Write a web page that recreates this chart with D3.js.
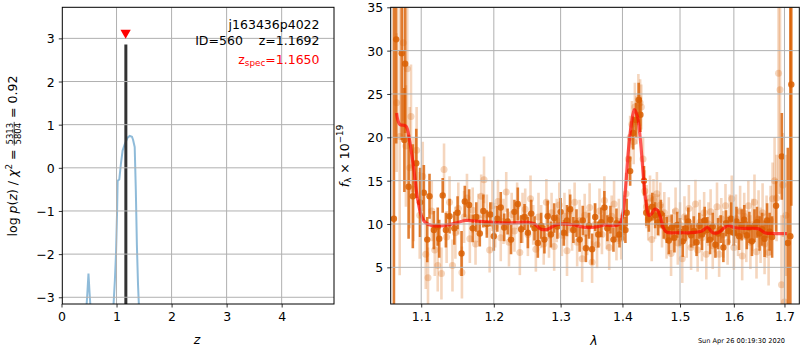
<!DOCTYPE html>
<html><head><meta charset="utf-8">
<script src="https://cdn.jsdelivr.net/npm/d3@7"></script>
<style>body{margin:0;background:#fff}svg{font-family:"DejaVu Sans",sans-serif}</style>
</head><body><svg id="c" width="800" height="350"></svg>
<script>
// ---------- left panel: log p(z) ----------
const zTicks = [0,1,2,3,4];
const pTicks = [-3,-2,-1,0,1,2,3];
const pzZ   = [0.40,0.45,0.47,0.49,0.51,0.53,0.58,0.90,0.94,0.97,0.99,1.01,1.02,1.05,1.08,1.11,1.15,1.20,1.24,1.28,1.30,1.33,1.35,1.37,1.39,1.41,1.46];
const pzLog = [-6,-3.3,-2.9,-2.45,-2.9,-3.3,-6,-6,-3.3,-2.6,-2.0,-1.0,-0.3,-0.27,0.1,0.4,0.55,0.7,0.74,0.72,0.65,0.48,-0.5,-1.8,-2.7,-3.3,-6];
const zBest = 1.1692, pBest = 2.86;
const zSpec = 1.1650, zSpecMarkY = 3.13;
const infoLines = ["j163436p4022", "ID=560    z=1.1692"];
const specText = ["z", "spec", "=1.1650"];

// ---------- right panel: spectrum ----------
const lamTicks = [1.1,1.2,1.3,1.4,1.5,1.6,1.7];
const fluxTicks = [5,10,15,20,25,30,35];

const darkLam = [1.0646,1.0675,1.0746,1.0780,1.0790,1.0835,1.0890,1.0935,1.0985,1.1035,1.1080,1.1110,1.1168,1.1220,1.1240,1.1287,1.1330,1.1380,1.1445,1.1490,1.1545,1.1590,
 1.165,1.170,1.175,1.180,1.185,1.190,1.195,1.200,1.205,1.210,1.215,1.220,1.225,1.230,1.235,1.240,1.245,1.250,1.255,1.260,1.265,1.270,1.275,1.280,1.285,1.290,1.295,1.300,1.305,1.310,1.315,1.320,1.325,1.330,1.335,1.340,1.345,1.350,1.355,1.360,1.365,1.370,1.375,1.380,1.385,1.390,1.395,
 1.400,1.405,1.4072,1.413,1.418,1.423,1.4275,1.4305,1.4366,1.4405,1.445,1.451,1.456,1.461,1.466,1.471,1.4763,
 1.480,1.485,1.490,1.495,1.500,1.505,1.510,1.515,1.520,1.525,1.530,1.535,1.540,1.545,1.550,1.555,1.560,1.565,1.570,1.575,1.580,1.585,1.590,1.595,1.600,1.605,1.610,1.615,1.620,1.625,1.630,1.635,1.640,1.645,1.650,1.655,1.660,1.665,1.670,1.675,
 1.683,1.6946,1.7069,1.712,1.714];
const darkFlux = [10.6,31.3,29.7,19.7,28.5,14.3,13.2,17.0,12.5,13.6,8.2,13.2,9.3,9.7,8.3,13.3,9.3,10.9,9.5,11.3,6.6,12.6,
 12.2,9.5,10.8,8.9,11.5,10.0,11.1,8.6,10.6,11.9,9.6,10.3,8.2,11.4,12.3,9.4,10.8,9.0,11.2,9.5,7.8,9.8,8.2,10.9,8.8,10.7,9.7,11.4,9.0,10.4,11.7,9.3,10.1,8.2,10.4,7.2,9.8,7.1,10.8,8.8,10.2,11.9,9.5,10.5,8.2,10.1,8.8,
 9.6,9.3,11.3,16.1,20.5,22.0,24.3,22.6,15.0,11.3,10.6,12.0,11.0,10.2,11.2,9.8,9.3,
 8.1,9.6,8.4,9.9,9.1,8.0,9.5,10.3,8.7,9.2,7.9,9.8,8.8,10.4,9.3,8.2,9.7,7.6,8.9,9.4,7.3,10.1,9.2,10.6,9.0,10.3,8.6,9.9,10.5,8.7,9.6,8.0,9.8,10.2,8.9,9.4,8.3,10.4,9.1,8.5,
 12.1,17.8,7.8,8.6,26.1];
const darkErr = [26,12,10,6,8,6,6,4,4,3.2,2.6,2.6,2.2,2.2,2.2,2.0,2.0,2.0,1.9,1.9,2.6,1.8,
 1.8,1.6,1.7,1.5,1.9,1.6,1.4,1.7,1.5,1.8,1.6,1.5,1.7,1.4,1.9,1.6,1.5,1.8,1.6,1.4,1.7,1.5,1.6,1.8,1.5,1.7,1.4,1.6,1.5,1.8,1.7,1.5,1.6,1.4,1.7,1.6,1.5,1.8,1.6,1.5,1.7,1.9,1.5,1.6,1.4,1.7,1.5,
 1.5,1.5,1.6,1.7,1.9,2.0,2.0,2.0,1.7,1.5,1.5,1.6,1.5,1.5,1.6,1.5,1.5,
 1.6,1.5,1.7,1.5,1.6,1.8,1.5,1.6,1.4,1.7,1.6,1.5,1.8,1.6,1.5,1.7,1.6,1.5,1.8,1.6,1.7,1.5,1.6,1.9,1.5,1.7,1.6,1.8,1.7,1.6,1.8,1.7,1.9,1.8,2.0,1.9,2.1,2.0,2.2,2.4,
 3.0,5.0,11,30,14];

const lightLam = [1.0680,1.0720,1.0765,1.0800,1.0817,1.0850,1.0866,1.0900,1.0940,1.0980,1.1020,1.1060,1.1090,1.1140,1.1180,1.1220,1.1270,1.1305,1.1340,1.1380,1.1420,1.1460,1.1500,1.1550,1.1580,1.1620,1.1660,
 1.170,1.174,1.178,1.182,1.186,1.190,1.194,1.198,1.202,1.206,1.210,1.214,1.218,1.222,1.226,1.230,1.234,1.238,1.242,1.246,1.250,1.254,1.258,1.262,1.266,1.270,1.274,1.278,1.282,1.286,1.290,1.294,1.298,1.302,1.306,1.310,1.314,1.318,1.322,1.326,1.330,1.334,1.338,1.342,1.346,1.350,1.354,1.358,1.362,1.366,1.370,1.374,1.378,1.382,1.386,1.390,1.394,1.398,
 1.402,1.406,1.410,1.413,1.416,1.419,1.421,1.424,1.427,1.430,1.432,1.435,1.438,1.441,1.444,1.447,1.450,1.453,1.456,1.459,1.462,1.465,1.468,1.472,1.476,
 1.480,1.484,1.488,1.492,1.496,1.500,1.504,1.508,1.512,1.516,1.520,1.524,1.528,1.532,1.536,1.540,1.544,1.548,1.552,1.556,1.560,1.564,1.568,1.572,1.576,1.580,1.584,1.588,1.592,1.596,1.600,1.604,1.608,1.612,1.616,1.620,1.624,1.628,1.632,1.636,1.640,1.644,1.648,1.652,1.656,1.660,1.664,1.668,1.672,1.676,
 1.680,1.684,1.688,1.691,1.694,1.697,1.700,1.703];
const lightFlux = [24.0,20.1,30.9,19.0,27.9,16.5,22.4,14.0,18.5,11.0,15.5,6.5,3.8,11.5,7.0,5.2,4.3,16.3,8.5,12.5,5.2,9.0,11.8,4.4,10.8,13.0,8.3,
 11.6,7.7,10.7,13.2,15.1,11.1,7.0,12.1,9.7,12.6,8.4,10.3,13.7,7.9,11.1,9.2,12.1,6.7,10.7,11.7,8.8,12.9,9.9,7.1,10.8,9.7,7.7,12.5,8.7,11.3,7.4,10.4,12.2,8.7,10.9,6.9,11.5,9.5,12.5,7.9,10.4,6.0,11.0,9.0,11.9,5.6,9.9,7.6,11.5,8.8,12.7,9.6,7.3,10.9,12.3,8.3,10.3,8.3,
 11.0,13.5,17.5,20.0,21.5,19.5,23.5,21.8,24.5,24.0,23.5,17.5,13.8,12.0,10.5,13.0,8.2,12.8,10.9,13.5,11.0,12.2,9.8,11.3,8.5,
 10.6,6.6,9.3,11.5,7.8,9.9,6.0,10.8,8.6,11.8,7.3,9.6,12.3,7.0,10.2,8.4,11.3,6.5,10.0,11.4,7.5,9.2,12.0,6.5,10.6,8.8,12.1,7.9,10.6,12.9,7.3,10.6,9.0,11.5,6.3,10.9,8.6,12.1,7.9,9.9,12.5,6.8,10.6,8.7,11.3,7.7,9.7,6.7,10.4,12.9,
 15.0,13.0,27.4,25.5,3.0,14.5,1.0,11.0];
const lightErr = [8,16,9,7,8,7,6,6,5,5,4,4,3.5,3.5,3,3,3,3,3,3,3,3,3,3,3,2.8,2.8,
 2.6,2.4,2.8,2.5,2.7,2.3,2.6,2.9,2.4,2.5,2.7,2.6,2.3,2.8,2.5,2.4,2.7,2.6,2.9,2.4,2.5,2.7,2.3,2.6,2.8,2.5,2.4,2.7,2.6,2.3,2.8,2.5,2.6,2.4,2.7,2.9,2.5,2.6,2.3,2.8,2.4,2.7,2.5,2.6,2.8,2.4,2.5,2.7,2.6,2.3,2.8,2.5,2.6,2.4,2.7,2.5,2.6,2.4,
 2.3,2.4,2.6,2.5,2.7,2.6,2.8,2.6,2.8,2.7,2.6,2.5,2.4,2.5,2.4,2.6,2.5,2.4,2.6,2.5,2.4,2.6,2.5,2.4,2.5,
 2.5,2.6,2.4,2.7,2.5,2.6,2.8,2.4,2.5,2.7,2.6,2.4,2.8,2.5,2.6,2.7,2.4,2.9,2.5,2.6,2.7,2.5,2.8,2.6,2.4,2.7,2.5,2.6,2.8,2.7,2.6,2.8,2.7,2.9,2.8,2.7,3.0,2.9,3.1,3.0,3.2,3.1,3.3,3.2,3.4,3.5,3.6,3.8,4.0,4.2,
 5,5,14,12,8,6,10,7];

const modelLam  = [1.068,1.072,1.080,1.085,1.090,1.095,1.100,1.105,1.115,1.130,1.150,1.160,1.180,1.200,1.220,1.250,1.260,1.270,1.280,1.290,1.300,1.320,1.340,1.360,1.370,1.385,1.395,1.400,1.405,1.410,1.415,1.420,1.425,1.430,1.435,1.440,1.445,1.450,1.455,1.460,1.465,1.470,1.475,1.480,1.500,1.520,1.540,1.550,1.560,1.570,1.580,1.590,1.600,1.620,1.640,1.650,1.660,1.680,1.705];
const modelFlux = [22.8,21.5,21.3,19.5,16.5,13.0,11.0,10.2,9.8,9.8,10.2,10.4,10.3,10.2,10.1,10.2,10.0,9.4,9.4,9.8,10.0,9.9,9.6,9.7,9.9,9.8,10.0,11.0,14.0,18.5,21.5,23.2,22.5,20.0,16.0,12.5,11.0,11.2,11.7,11.6,10.8,9.6,9.1,9.0,9.0,9.0,9.2,9.6,9.0,9.0,9.5,9.8,9.6,9.5,9.5,9.4,9.0,8.9,8.9];

const stamp = "Sun Apr 26 00:19:30 2020";

// ---------- drawing ----------
const svg = d3.select('#c');
const FS = 12.5;
const L = {x0:62.3, x1:334, y0:7.3, y1:304};
const R = {x0:390.7, x1:799.3, y0:7.3, y1:304};
const xz = d3.scaleLinear().domain([0.0145, 4.951]).range([L.x0, L.x1]);
const yz = d3.scaleLinear().domain([-3.156, 3.72]).range([L.y1, L.y0]);
const xl = d3.scaleLog().domain([1.0605, 1.7305]).range([R.x0, R.x1]);
const yl = d3.scaleLinear().domain([0.77, 35]).range([R.y1, R.y0]);

const defs = svg.append('defs');
[['clipL', L], ['clipR', R]].forEach(([id, P]) => {
  defs.append('clipPath').attr('id', id).append('rect')
    .attr('x', P.x0).attr('y', P.y0).attr('width', P.x1 - P.x0).attr('height', P.y1 - P.y0);
});

function axes(P, xs, ys, xt, yt, xfmt, yfmt) {
  const gx = svg.append('g').attr('transform', `translate(0,${P.y1})`)
    .call(d3.axisBottom(xs).tickValues(xt).tickSize(3.5).tickPadding(4).tickFormat(xfmt));
  const gy = svg.append('g').attr('transform', `translate(${P.x0},0)`)
    .call(d3.axisLeft(ys).tickValues(yt).tickSize(3.5).tickPadding(4).tickFormat(yfmt));
  [gx, gy].forEach(g => {
    g.select('.domain').remove();
    g.attr('font-family', null).attr('font-size', null);
    g.selectAll('text').attr('font-size', FS).attr('fill', '#000');
    g.selectAll('line').attr('stroke', '#000').attr('stroke-width', 0.8);
  });
  gx.selectAll('text').attr('dy', '0.78em');
  gy.selectAll('text').attr('dy', '0.36em');
}
function grid(P, xs, ys, xt, yt) {
  const g = svg.append('g').attr('clip-path', `url(#${P === L ? 'clipL' : 'clipR'})`);
  g.selectAll('.gx').data(xt).join('line')
    .attr('x1', d => xs(d)).attr('x2', d => xs(d)).attr('y1', P.y0).attr('y2', P.y1)
    .attr('stroke', '#b0b0b0').attr('stroke-width', 1);
  g.selectAll('.gy').data(yt).join('line')
    .attr('y1', d => ys(d)).attr('y2', d => ys(d)).attr('x1', P.x0).attr('x2', P.x1)
    .attr('stroke', '#b0b0b0').attr('stroke-width', 1);
}
function frame(P) {
  svg.append('rect').attr('x', P.x0).attr('y', P.y0).attr('width', P.x1 - P.x0).attr('height', P.y1 - P.y0)
    .attr('fill', 'none').attr('stroke', '#000').attr('stroke-width', 1);
}
const minus = s => String(s).replace('-', '\u2212');

// ---- left panel content ----
const gL = svg.append('g').attr('clip-path', 'url(#clipL)');
gL.append('path')
  .datum(pzZ.map((z, i) => [z, pzLog[i]]))
  .attr('d', d3.line().x(d => xz(d[0])).y(d => yz(d[1])))
  .attr('fill', 'none').attr('stroke', '#1f77b4').attr('stroke-opacity', 0.5).attr('stroke-width', 2);
grid(L, xz, yz, zTicks, pTicks);
gL.append('line')
  .attr('x1', xz(zBest)).attr('x2', xz(zBest)).attr('y1', yz(pBest)).attr('y2', L.y1 + 2)
  .attr('stroke', '#333').attr('stroke-width', 3);
svg.append('path')
  .attr('d', d3.symbol(d3.symbolTriangle, 46)())
  .attr('transform', `translate(${xz(zSpec)},${yz(zSpecMarkY)}) rotate(180)`)
  .attr('fill', 'red');
axes(L, xz, yz, zTicks, pTicks, d => d, d => minus(d));
frame(L);

svg.append('text').attr('x', 319.5).attr('y', 28.8).attr('text-anchor', 'end').attr('font-size', FS)
  .text(infoLines[0]);
svg.append('text').attr('x', 319.5).attr('y', 44.5).attr('text-anchor', 'end').attr('font-size', FS)
  .style('white-space', 'pre').text(infoLines[1]);
const st = svg.append('text').attr('x', 319.5).attr('y', 63.5).attr('text-anchor', 'end').attr('font-size', FS).attr('fill', 'red');
st.append('tspan').text(specText[0]);
st.append('tspan').attr('font-size', 8.8).attr('dy', 2.5).text(specText[1]);
st.append('tspan').attr('dy', -2.5).text(specText[2]);

// ---- right panel content ----
const gR = svg.append('g').attr('clip-path', 'url(#clipR)');
const col = '#d95f02';
const light = lightLam.map((l, i) => ({l, f: lightFlux[i], e: lightErr[i]}));
const dark = darkLam.map((l, i) => ({l, f: darkFlux[i], e: darkErr[i]}));
const gLight = gR.append('g');
gLight.selectAll('line').data(light).join('line')
  .attr('x1', d => xl(d.l)).attr('x2', d => xl(d.l))
  .attr('y1', d => yl(d.f - d.e)).attr('y2', d => yl(d.f + d.e))
  .attr('stroke', col).attr('stroke-opacity', 0.26).attr('stroke-width', 2.6);
gLight.selectAll('circle').data(light).join('circle')
  .attr('cx', d => xl(d.l)).attr('cy', d => yl(d.f)).attr('r', 3.5)
  .attr('fill', col).attr('fill-opacity', 0.26);
const gDark = gR.append('g');
gDark.selectAll('line').data(dark).join('line')
  .attr('x1', d => xl(d.l)).attr('x2', d => xl(d.l))
  .attr('y1', d => yl(d.f - d.e)).attr('y2', d => yl(d.f + d.e))
  .attr('stroke', col).attr('stroke-opacity', 0.8).attr('stroke-width', 2.6);
gDark.selectAll('circle').data(dark).join('circle')
  .attr('cx', d => xl(d.l)).attr('cy', d => yl(d.f)).attr('r', 3.2)
  .attr('fill', col).attr('fill-opacity', 0.85);
gR.append('path')
  .datum(modelLam.map((l, i) => [l, modelFlux[i]]))
  .attr('d', d3.line().x(d => xl(d[0])).y(d => yl(d[1])).curve(d3.curveCatmullRom.alpha(0.5)))
  .attr('fill', 'none').attr('stroke', 'red').attr('stroke-opacity', 0.65).attr('stroke-width', 3.2)
  .attr('stroke-linejoin', 'round');
grid(R, xl, yl, lamTicks, fluxTicks);
axes(R, xl, yl, lamTicks, fluxTicks, d => d3.format('.1f')(d), d => d);
frame(R);

// ---- axis labels ----
svg.append('text').attr('x', 197).attr('y', 344).attr('text-anchor', 'middle').attr('font-size', FS)
  .attr('font-style', 'italic').text('z');
svg.append('text').attr('x', 594).attr('y', 344.5).attr('text-anchor', 'middle').attr('font-size', FS)
  .attr('font-style', 'italic').text('\u03bb');

function mathLabel(cx, cy, parts) {
  const g = svg.append('g');
  const inner = g.append('g');
  let x = 0;
  parts.forEach(p => {
    if (p.frac) {
      const n = inner.append('text').attr('font-size', p.size).attr('y', p.ny).text(p.frac[0]);
      const d = inner.append('text').attr('font-size', p.size).attr('y', p.dy).text(p.frac[1]);
      const w = Math.max(n.node().getComputedTextLength(), d.node().getComputedTextLength()) + 2;
      n.attr('x', x + w / 2).attr('text-anchor', 'middle');
      d.attr('x', x + w / 2).attr('text-anchor', 'middle');
      inner.append('line').attr('x1', x).attr('x2', x + w).attr('y1', p.ly).attr('y2', p.ly)
        .attr('stroke', '#000').attr('stroke-width', 0.7);
      x += w;
    } else {
      const t = inner.append('text').attr('x', x).attr('y', p.y || 0).attr('font-size', p.size || FS)
        .style('white-space', 'pre').text(p.t);
      if (p.it) t.attr('font-style', 'italic');
      x += t.node().getComputedTextLength();
    }
  });
  inner.attr('transform', `translate(${-x / 2},0)`);
  g.attr('transform', `translate(${cx},${cy}) rotate(-90)`);
}
mathLabel(16.8, 156, [
  {t: 'log '}, {t: 'p', it: true}, {t: '('}, {t: 'z', it: true}, {t: ') / '},
  {t: '\u03c7', it: true}, {t: '2', size: 8.8, y: -5}, {t: ' = '},
  {frac: ['5313', '5804'], size: 8.5, ny: -4, dy: 4.2, ly: -2.6},
  {t: ' = 0.92'}
]);
mathLabel(348.5, 156, [
  {t: 'f', it: true}, {t: '\u03bb', size: 8.8, y: 2.8}, {t: ' \u00d7 10'}, {t: '\u221219', size: 8.8, y: -5.5}
]);

svg.append('text').attr('x', 741.5).attr('y', 342.5).attr('text-anchor', 'middle').attr('font-size', 6.6)
  .text(stamp);
</script></body></html>
